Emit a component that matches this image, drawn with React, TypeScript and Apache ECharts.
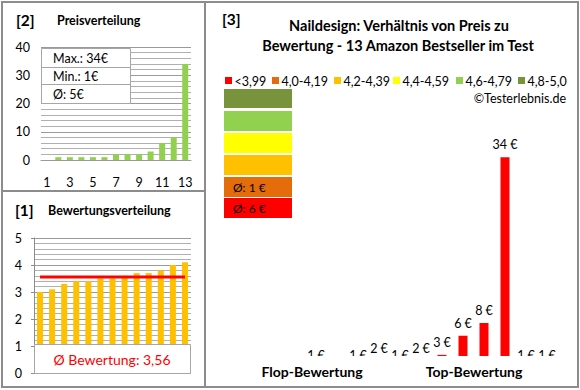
import React, { useEffect, useRef } from "react";
import * as echarts from "echarts";

const CATEGORIES = ["1", "2", "3", "4", "5", "6", "7", "8", "9", "10", "11", "12", "13"];
const PRICE_VALUES = [0, 1, 1, 1, 1, 1, 2, 2, 2, 3, 6, 8, 34];
const PRICE_STATS = ["Max.: 34€", "Min.: 1€", "Ø: 5€"];
const RATING_VALUES = [3.0, 3.1, 3.3, 3.4, 3.4, 3.5, 3.5, 3.6, 3.7, 3.7, 3.8, 4.0, 4.1];
const RATING_AVG = 3.56;
const RIGHT_PRICES = [0, 1, 0, 1, 2, 1, 2, 3, 6, 8, 34, 1, 1];
const LEGEND_LABELS = ["<3,99", "4,0-4,19", "4,2-4,39", "4,4-4,59", "4,6-4,79", "4,8-5,0"];
const LEGEND_COLORS = ["#FF0000", "#E46C0A", "#FFC000", "#FFFF00", "#92D050", "#77933C"];
const BLOCK_LABELS = ["Ø: 6 €", "Ø: 1 €", "", "", "", ""]; // same order as legend (red first)
const TITLE_LINES = ["Naildesign: Verhältnis von Preis zu", "Bewertung - 13 Amazon Bestseller im Test"];

const FONT = "Lato, 'Open Sans', sans-serif";
const BORDER = "#8c8c8c";

export default function App() {
  const ref = useRef<HTMLDivElement>(null);

  useEffect(() => {
    if (!ref.current) return;
    const chart = echarts.init(ref.current, undefined, { renderer: "svg" });

    const legendSquareX = [225, 272, 334, 393, 456, 518];
    const graphics: any[] = [];

    // borders
    graphics.push({
      type: "rect", z: 100,
      shape: { x: 2, y: 2, width: 576, height: 385 },
      style: { fill: "none", stroke: BORDER, lineWidth: 2 },
    });
    graphics.push({ type: "line", z: 100, shape: { x1: 205, y1: 2, x2: 205, y2: 387 }, style: { stroke: BORDER, lineWidth: 2 } });
    graphics.push({ type: "line", z: 100, shape: { x1: 2, y1: 191, x2: 205, y2: 191 }, style: { stroke: BORDER, lineWidth: 2 } });

    const txt = (text: string, x: number, y: number, opts: any = {}) => ({
      type: "text", x, y, z: 101,
      style: {
        text, fontFamily: FONT, fontSize: opts.fontSize ?? 12, fontWeight: opts.fontWeight ?? "normal",
        fill: opts.fill ?? "#000", align: opts.align ?? "left", verticalAlign: "middle",
      },
    });

    // panel titles
    graphics.push(txt("[2]", 16, 20, { fontSize: 15.5, fontWeight: "bold" }));
    graphics.push(txt("Preisverteilung", 57, 20, { fontSize: 12.5, fontWeight: "bold" }));
    graphics.push(txt("[1]", 15, 210, { fontSize: 15.5, fontWeight: "bold" }));
    graphics.push(txt("Bewertungsverteilung", 48, 210, { fontSize: 12.5, fontWeight: "bold" }));
    graphics.push(txt("[3]", 222, 19, { fontSize: 15.5, fontWeight: "bold" }));
    graphics.push(txt(TITLE_LINES[0], 399, 25, { fontSize: 14.5, fontWeight: "bold", align: "center" }));
    graphics.push(txt(TITLE_LINES[1], 398, 45, { fontSize: 14.5, fontWeight: "bold", align: "center" }));

    // stats box top-left
    graphics.push({
      type: "rect", z: 100,
      shape: { x: 41.5, y: 48.5, width: 89, height: 55 },
      style: { fill: "#fff", stroke: "#a6a6a6", lineWidth: 1 },
    });
    graphics.push({ type: "line", z: 100, shape: { x1: 41.5, y1: 67.5, x2: 130.5, y2: 67.5 }, style: { stroke: "#a6a6a6", lineWidth: 1 } });
    graphics.push({ type: "line", z: 100, shape: { x1: 41.5, y1: 84.5, x2: 130.5, y2: 84.5 }, style: { stroke: "#a6a6a6", lineWidth: 1 } });
    PRICE_STATS.forEach((s, i) => graphics.push(txt(s, 53, [58, 76, 94][i], { fontSize: 12.5 })));

    // rating average box
    graphics.push({
      type: "rect", z: 100,
      shape: { x: 34.5, y: 344.5, width: 156, height: 29 },
      style: { fill: "#fff", stroke: "#a6a6a6", lineWidth: 1 },
    });
    graphics.push(txt("Ø Bewertung: " + RATING_AVG.toFixed(2).replace(".", ","), 112, 359, { fontSize: 14, fill: "#FF0000", align: "center" }));

    // legend right panel
    LEGEND_LABELS.forEach((lab, i) => {
      graphics.push({
        type: "rect", z: 101,
        shape: { x: legendSquareX[i], y: 77, width: 7, height: 7 },
        style: { fill: LEGEND_COLORS[i] },
      });
      graphics.push(txt(lab, legendSquareX[i] + 9.5, 81, { fontSize: 12.5 }));
    });
    graphics.push(txt("©Testerlebnis.de", 566, 98, { fontSize: 12.5, align: "right" }));

    // colour blocks (top olive -> bottom red)
    const blockTops = [89, 111, 133, 155, 177, 198];
    for (let k = 0; k < 6; k++) {
      const idx = 5 - k;
      graphics.push({
        type: "rect", z: 100,
        shape: { x: 224, y: blockTops[k], width: 68, height: k === 0 ? 19 : 20 },
        style: { fill: LEGEND_COLORS[idx] },
      });
      if (BLOCK_LABELS[idx]) graphics.push(txt(BLOCK_LABELS[idx], 233, blockTops[k] + 10, { fontSize: 12 }));
    }

    // cover at the bottom of the right chart + axis captions
    graphics.push({
      type: "rect", z: 100,
      shape: { x: 207, y: 356, width: 370, height: 30 },
      style: { fill: "#fff" },
    });
    graphics.push(txt("Flop-Bewertung", 312, 371, { fontSize: 14, fontWeight: "bold", align: "center" }));
    graphics.push(txt("Top-Bewertung", 474, 371, { fontSize: 14, fontWeight: "bold", align: "center" }));

    const axisLabel = { color: "#000", fontSize: 12.5, fontFamily: FONT };

    chart.setOption({
      animation: false,
      backgroundColor: "#fff",
      grid: [
        { left: 41, top: 47, width: 150, height: 113 },
        { left: 34, top: 238, width: 157, height: 135 },
        { left: 284.5, top: 119, width: 273, height: 255 },
      ],
      xAxis: [
        {
          gridIndex: 0, type: "category", data: CATEGORIES,
          axisLine: { lineStyle: { color: "#9a9a9a" } }, axisTick: { show: false },
          axisLabel: { ...axisLabel, interval: 1, margin: 16 },
        },
        { gridIndex: 1, type: "category", data: CATEGORIES, show: false },
        { gridIndex: 2, type: "category", data: CATEGORIES, show: false },
      ],
      yAxis: [
        {
          gridIndex: 0, type: "value", min: 0, max: 40, interval: 10,
          axisLine: { show: false }, axisTick: { show: false },
          axisLabel: { ...axisLabel, margin: 11 },
          splitLine: { lineStyle: { color: "#9a9a9a" } },
          minorTick: { show: false, splitNumber: 5 },
          minorSplitLine: { show: true, lineStyle: { color: "#b0b0b0" } },
        },
        {
          gridIndex: 1, type: "value", min: 0, max: 5, interval: 1,
          axisLine: { show: true, lineStyle: { color: "#8c8c8c" } },
          axisTick: { show: true, length: 3, lineStyle: { color: "#8c8c8c" } },
          axisLabel: { ...axisLabel, margin: 12 },
          splitLine: { lineStyle: { color: "#9a9a9a" } },
          minorTick: { show: false, splitNumber: 5 },
          minorSplitLine: { show: true, lineStyle: { color: "#b0b0b0" } },
        },
        { gridIndex: 2, type: "value", min: 0, max: 40, show: false, splitLine: { show: false } },
      ],
      series: [
        {
          type: "bar", xAxisIndex: 0, yAxisIndex: 0, data: PRICE_VALUES,
          barWidth: 6, itemStyle: { color: "#92D050" },
        },
        {
          type: "bar", xAxisIndex: 1, yAxisIndex: 1, data: RATING_VALUES,
          barWidth: 6, itemStyle: { color: "#FFC000" },
        },
        {
          type: "line", xAxisIndex: 1, yAxisIndex: 1, data: RATING_VALUES.map(() => RATING_AVG),
          symbol: "none", lineStyle: { color: "#FF0000", width: 3 }, z: 5,
        },
        {
          type: "bar", xAxisIndex: 2, yAxisIndex: 2, data: RIGHT_PRICES,
          barWidth: 9, itemStyle: { color: "#FF0000" },
          label: {
            show: true, position: "top", distance: 6, color: "#000", fontSize: 12.5, fontFamily: FONT,
            formatter: (p: any) => (p.value > 0 ? Math.round(p.value) + " €" : ""),
          },
        },
      ],
      graphic: graphics,
    });

    return () => chart.dispose();
  }, []);

  return (
    <div
      ref={ref}
      style={{ position: "fixed", left: 0, top: 0, width: 580, height: 390, background: "#fff" }}
    />
  );
}
